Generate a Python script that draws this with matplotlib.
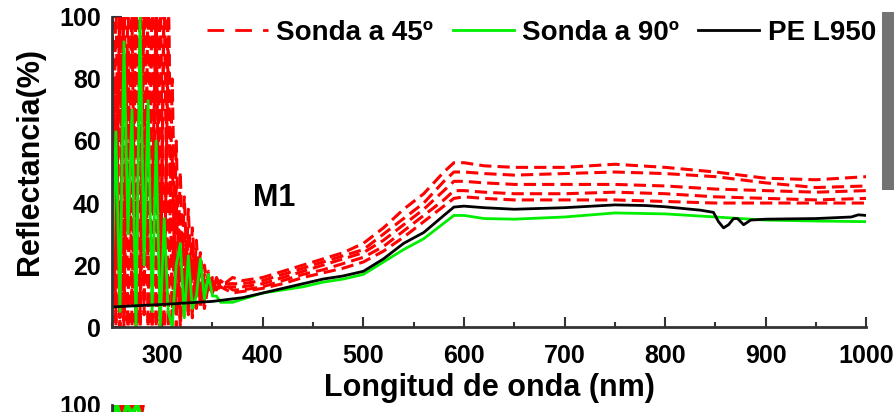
import matplotlib
matplotlib.use("Agg")
import matplotlib.pyplot as plt
import matplotlib.patches as patches
from matplotlib.ticker import MultipleLocator

plt.rcParams['font.family'] = ['Liberation Sans', 'DejaVu Sans']
plt.rcParams['font.weight'] = 'bold'

# oscillating part of the spectra (UV end)
wl_osc = [250, 254, 258, 262, 266, 270, 274, 278, 282, 286, 290, 294, 298, 302,
          306, 310, 314, 318, 322, 326, 330, 334, 338, 342, 346, 350, 354, 358]
# smooth part
wl_vis = [370, 380, 400, 420, 440, 460, 480, 500, 520, 540, 560, 580, 590, 600,
          620, 650, 700, 750, 800, 850, 900, 950, 1000]

# Sonda a 45 (five repeated measurements)
s45_osc = [
    [110, 0, 110, 2, 110, 0, 110, 5, 110, 0, 110, 3, 110, 0, 110, 0, 60, 2, 42, 8, 32, 10, 24, 9, 18, 12, 15, 13],
    [0, 110, 3, 110, 0, 110, 0, 110, 4, 110, 0, 110, 2, 110, 0, 80, 5, 50, 3, 38, 5, 28, 6, 20, 11, 16, 12, 14],
    [50, 5, 100, 0, 90, 10, 110, 0, 70, 20, 110, 0, 110, 10, 90, 3, 45, 15, 30, 4, 25, 12, 18, 6, 14, 11, 16, 13],
    [10, 80, 0, 110, 30, 100, 0, 90, 10, 110, 40, 100, 0, 110, 30, 55, 0, 35, 10, 30, 3, 22, 8, 17, 12, 15, 11, 15],
    [90, 20, 110, 40, 0, 110, 60, 0, 110, 30, 0, 110, 50, 0, 110, 20, 40, 0, 25, 5, 20, 6, 15, 10, 13, 14, 12, 13],
]
s45_vis = [
    [16, 15, 16, 18, 20, 22, 24, 27, 32, 38, 43, 50, 53, 53, 52, 51.5, 51.5, 52.5, 51.5, 50, 48, 47.5, 48.5],
    [14, 14, 15, 17, 19, 21, 23, 25, 30, 35, 40, 47, 50, 50, 49.5, 49, 49.5, 50, 49.5, 48.5, 46.5, 45, 45.5],
    [13, 13, 14, 16, 18, 20, 22, 24, 28, 33, 38, 44, 47, 47, 46.5, 46, 46, 46, 45.5, 44.5, 44, 43.5, 44],
    [12, 12, 13, 15, 17, 18.5, 20.5, 22.5, 26, 31, 36, 41, 44, 44, 43.5, 43, 43, 43.5, 43, 42, 41.5, 41, 41.5],
    [11, 11.5, 12.5, 14, 16, 17.5, 19, 21, 24.5, 29, 34, 39, 41.5, 42, 41.5, 41, 41, 41, 40.5, 40, 40, 40, 40],
]

# Sonda a 90
s90_osc = [15, 63, 5, 92, 30, 70, 0, 100, 20, 73, 5, 60, 0, 35,
           5, 0, 20, 27, 3, 23, 6, 10, 22, 9, 17, 10, 10, 8]
s90_vis = [8, 9, 11, 12, 13, 14.5, 15.5, 17, 21, 25, 28.5, 33.5, 36, 36,
           35, 34.8, 35.5, 36.8, 36.5, 35.5, 34.5, 34.2, 34]

# PE L950 reference
pe_wl = [250, 300, 350, 380, 400, 420, 440, 460, 480, 500, 520, 540, 560, 580, 590,
         600, 620, 650, 700, 750, 780, 800, 835, 848, 853, 858, 863, 868, 872, 878,
         885, 900, 950, 985, 992, 1000]
pe_val = [6.5, 7.3, 8.3, 9.5, 11, 12.5, 14, 15.5, 16.5, 18, 22, 27, 30.5, 36, 38.7,
          39, 38.5, 38, 38.5, 39.4, 39.2, 38.8, 37.7, 37, 34, 32, 33, 35, 35, 33,
          34.5, 34.8, 35, 35.5, 36.2, 36]

# lower panel (only its top edge is visible)
m2_wl = [250, 255, 260, 265, 270, 275, 280]
m2_red = [100, 92, 100, 95, 100, 90, 100]
m2_green = [96, 100, 94, 100, 97, 100, 95]

fig = plt.figure(figsize=(8.95, 4.12), dpi=100)
ax = fig.add_axes([0.125, 0.206, 0.843, 0.753])

for yo, yv in zip(s45_osc, s45_vis):
    ax.plot(wl_osc + wl_vis, yo + yv, color='#ff0000', lw=2.2, ls=(0, (4, 2)))
ax.plot(wl_osc + wl_vis, s90_osc + s90_vis, color='#00ee00', lw=2)
ax.plot(pe_wl, pe_val, color='black', lw=2)

# legend handles
h1, = ax.plot([], [], color='#ff0000', lw=2, ls=(0, (6, 4)), label='Sonda a 45º')
h2, = ax.plot([], [], color='#00ee00', lw=2, label='Sonda a 90º')
h3, = ax.plot([], [], color='black', lw=2, label='PE L950')
ax.legend(handles=[h1, h2, h3], ncol=3, loc='upper right', bbox_to_anchor=(1.046, 1.07),
          frameon=False, handlelength=2.2, columnspacing=0.7, handletextpad=0.3,
          prop={'size': 20, 'weight': 'bold'})

ax.text(0.187, 0.39, 'M1', transform=ax.transAxes, fontsize=22, fontweight='bold')

ax.set_xlim(250, 1000)
ax.set_ylim(0, 100)
ax.xaxis.set_major_locator(MultipleLocator(100))
ax.xaxis.set_minor_locator(MultipleLocator(50))
ax.yaxis.set_major_locator(MultipleLocator(20))
ax.yaxis.set_minor_locator(MultipleLocator(10))
ax.tick_params(which='both', direction='in', labelsize=18, width=1.5, color='#333333')
ax.tick_params(which='major', length=7)
ax.tick_params(which='minor', length=3.5)
ax.tick_params(axis='x', pad=12)
ax.tick_params(axis='y', pad=8)
ax.set_xticks([300, 400, 500, 600, 700, 800, 900, 1000])
for s in ['top', 'right']:
    ax.spines[s].set_visible(False)
for s in ['left', 'bottom']:
    ax.spines[s].set_linewidth(2)
    ax.spines[s].set_color('#333333')
ax.set_xlabel('Longitud de onda (nm)', fontsize=22, fontweight='bold', labelpad=4)
ax.set_ylabel('Reflectancia(%)', fontsize=22, fontweight='bold')
ax.yaxis.set_label_coords(-0.089, 0.535)

# the next panel starts at the bottom edge
ax2 = fig.add_axes([0.125, -0.7, 0.843, 0.717])
ax2.plot(m2_wl, m2_red, color='#ff0000', lw=4)
ax2.plot(m2_wl, m2_green, color='#00ee00', lw=3)
ax2.set_xlim(250, 1000)
ax2.set_ylim(0, 100)
ax2.set_yticks([100])
ax2.set_xticks([])
ax2.tick_params(direction='in', labelsize=18, length=0, pad=8)
for s in ['top', 'right', 'bottom']:
    ax2.spines[s].set_visible(False)
ax2.spines['left'].set_linewidth(2)
ax2.spines['left'].set_color('#333333')

# edge of the neighbouring picture
fig.patches.append(patches.Rectangle((0.985, 0.54), 0.02, 0.43, transform=fig.transFigure,
                                     facecolor='#5a5a5a', edgecolor='none', alpha=0.85))

fig.savefig('out.png', dpi=100)
